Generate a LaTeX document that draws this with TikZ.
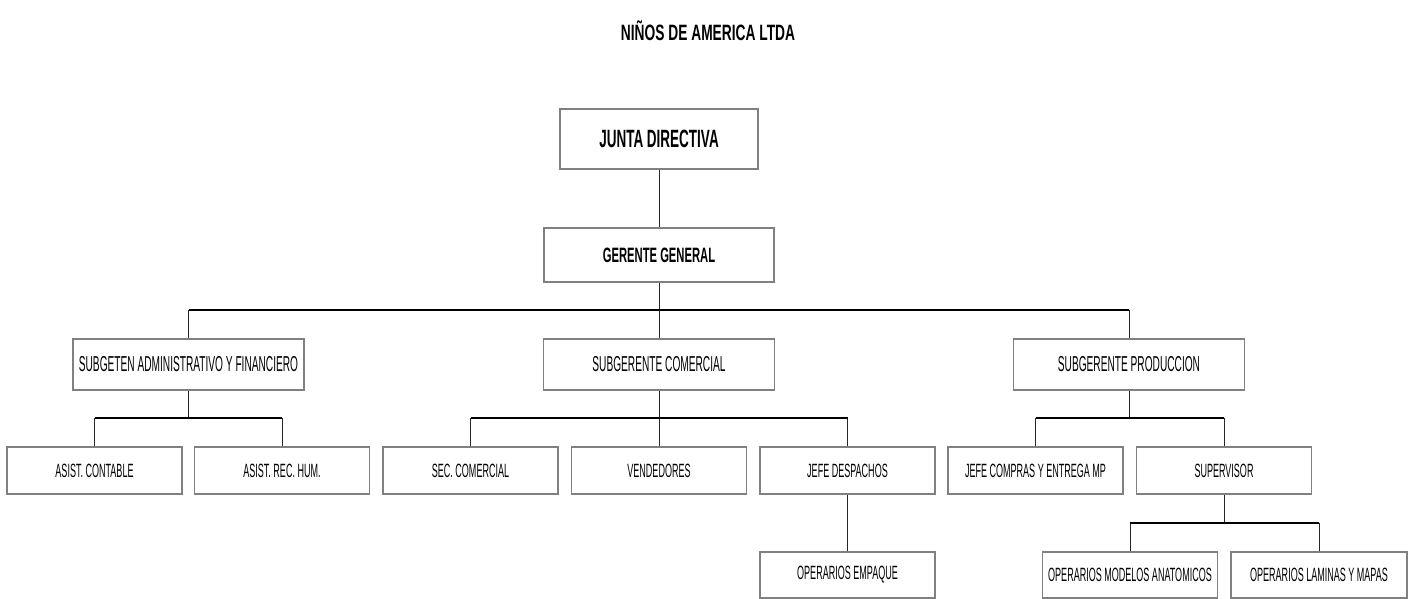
\documentclass[tikz,border=0pt]{standalone}
\usepackage{fontspec}
\setmainfont{Liberation Sans}
\newfontfamily\condr[FakeStretch=0.47]{Liberation Sans}
\newfontfamily\condb[FakeStretch=0.54]{Liberation Sans}
\newfontfamily\condt[FakeStretch=0.62]{Liberation Sans}
\definecolor{boxgray}{RGB}{128,128,128}
\begin{document}
\begin{tikzpicture}[x=1pt,y=-1pt,
  box/.style={draw=boxgray, line width=1.4pt, fill=white, inner sep=0pt, align=center},
  topbox/.style={box, font=\condb\bfseries\fontsize{25}{27}\selectfont},
  genbox/.style={box, font=\condb\bfseries\fontsize{20.8}{23}\selectfont},
  midbox/.style={box, minimum width=231pt, minimum height=51pt, font=\condr\fontsize{21.6}{23}\selectfont},
  lowbox/.style={box, minimum width=175pt, minimum height=47pt, font=\condr\fontsize{19.2}{21}\selectfont},
  botbox/.style={box, minimum width=175pt, minimum height=46pt, font=\condr\fontsize{19.2}{21}\selectfont},
  vline/.style={draw=black!85, line width=1pt},
  hbar/.style={draw=black, line width=2pt}]
\useasboundingbox (0,0) rectangle (1412,599);
\node[font=\condt\bfseries\fontsize{22.2}{24}\selectfont] (title) at (708,31) {NIÑOS DE AMERICA LTDA};
\node[topbox, minimum width=198pt, minimum height=60pt] (jun) at (659,139) {JUNTA DIRECTIVA};
\node[genbox, minimum width=230pt, minimum height=54pt] (ger) at (659,255) {GERENTE GENERAL};
\node[midbox] (adm) at (188.5,364.5) {SUBGETEN ADMINISTRATIVO Y FINANCIERO};
\node[midbox] (com) at (659,364.5) {SUBGERENTE COMERCIAL};
\node[midbox] (pro) at (1129,364.5) {SUBGERENTE PRODUCCION};
\node[lowbox] (cont) at (94.5,470.5) {ASIST. CONTABLE};
\node[lowbox] (rh) at (282,470.5) {ASIST. REC. HUM.};
\node[lowbox] (sec) at (470.5,470.5) {SEC. COMERCIAL};
\node[lowbox] (ven) at (659,470.5) {VENDEDORES};
\node[lowbox] (jd) at (847.5,470.5) {JEFE DESPACHOS};
\node[lowbox] (jc) at (1035.5,470.5) {JEFE COMPRAS Y ENTREGA MP};
\node[lowbox] (sup) at (1224,470.5) {SUPERVISOR};
\node[botbox] (emp) at (847.5,575) {OPERARIOS EMPAQUE};
\node[botbox] (mod) at (1130,575) {OPERARIOS MODELOS ANATOMICOS};
\node[botbox, minimum width=176pt] (lam) at (1319,575) {OPERARIOS LAMINAS Y MAPAS};
\coordinate (b1) at (659,310);
\coordinate (b2) at (659,418);
\coordinate (b3) at (1224,523);
% level 1
\draw[vline] (jun.south) -- (ger.north);
\draw[vline] (ger.south) -- (com.north);
\draw[vline] (adm.north) -- (adm.north |- b1);
\draw[vline] (pro.north) -- (pro.north |- b1);
\draw[hbar] (adm.north |- b1) -- (pro.north |- b1);
% admin
\draw[vline] (adm.south) -- (adm.south |- b2);
\draw[vline] (cont.north) -- (cont.north |- b2);
\draw[vline] (rh.north) -- (rh.north |- b2);
\draw[hbar] (cont.north |- b2) -- (rh.north |- b2);
% comercial
\draw[vline] (com.south) -- (ven.north);
\draw[vline] (sec.north) -- (sec.north |- b2);
\draw[vline] (jd.north) -- (jd.north |- b2);
\draw[hbar] (sec.north |- b2) -- (jd.north |- b2);
\draw[vline] (jd.south) -- (emp.north);
% produccion
\draw[vline] (pro.south) -- (pro.south |- b2);
\draw[vline] (jc.north) -- (jc.north |- b2);
\draw[vline] (sup.north) -- (sup.north |- b2);
\draw[hbar] (jc.north |- b2) -- (sup.north |- b2);
% supervisor
\draw[vline] (sup.south) -- (b3);
\draw[vline] (mod.north) -- (mod.north |- b3);
\draw[vline] (lam.north) -- (lam.north |- b3);
\draw[hbar] (mod.north |- b3) -- (lam.north |- b3);
\end{tikzpicture}
\end{document}
